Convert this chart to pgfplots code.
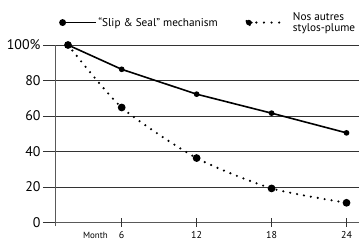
\documentclass[border=0pt]{standalone}
\usepackage{fontspec}
\setmainfont{PT Sans}
\usepackage{pgfplots}
\pgfplotsset{compat=1.18}
\begin{document}
\begin{tikzpicture}
\begin{axis}[
  scale only axis, width=304bp, height=177.5bp,
  xmin=0.66, xmax=25, ymin=0, ymax=100,
  axis x line=bottom, axis y line=left,
  axis line style={-, black!65, line width=0.8bp},
  y axis line style={shorten <=-3.5bp},
  /pgf/number format/assume math mode=true,
  xtick=\empty,
  extra x ticks={6,12,18,24},
  extra x tick style={tick align=center, major tick length=8bp},
  extra x tick labels={6,12,18,24},
  ytick={0,20,40,60,80,100},
  yticklabels={0,20,40,60,80,100\%},
  tick align=outside, major tick length=12bp,
  ymajorgrids, grid style={black!80, line width=0.6bp},
  ytick style={black!80, line width=0.6bp},
  xtick style={black!80, line width=0.8bp},
  y tick label style={font=\fontsize{14}{14}\selectfont, xshift=1bp},
  x tick label style={font=\fontsize{10}{10}\selectfont, yshift=-1bp},
  clip=false,
  legend columns=2,
  legend style={at={(rel axis cs:0,1)}, anchor=south west, xshift=4bp, yshift=10bp, draw=none, fill=none,
    font=\fontsize{11.3}{11.3}\selectfont, column sep=0bp, inner sep=0pt,
    /tikz/every even column/.append style={column sep=25bp}},
  legend cell align=left,
]
\addplot[black, line width=1.6bp, mark=*, mark size=2bp,
  legend image code/.code={
    \draw[black, line width=1.6bp] (0bp,0bp) -- (33bp,0bp);
    \fill[black] (0bp,0bp) circle (2.6bp);
  }] coordinates {(1.7,100) (6,86.3) (12,72.3) (18,61.6) (24,50.5)};
\addlegendentry{“Slip \& Seal” mechanism}
\addplot[black, line width=2.4bp, line cap=round, dash pattern=on 0bp off 7bp, smooth, tension=0.4,
  mark=*, mark size=2.6bp, mark options={solid},
  legend image code/.code={
    \draw[black, line width=2.4bp, line cap=round, dash pattern=on 0bp off 7.6bp] (0bp,0bp) -- (33bp,0bp);
    \fill[black] (0bp,0bp) circle (2.8bp);
  }] coordinates {(1.7,100) (6,64.8) (12,36.3) (18,19.2) (24,11.1)};
\addlegendentry{\hspace*{8bp}\shortstack[l]{Nos autres\\stylos-plume}}
\node[font=\fontsize{9}{9}\selectfont, anchor=base] at (axis cs:3.9,0) [yshift=-15.5bp] {Month};
\end{axis}
\pgfresetboundingbox
\path[use as bounding box] (-55bp,-17.5bp) rectangle (304bp,222.5bp);
\end{tikzpicture}
\end{document}
